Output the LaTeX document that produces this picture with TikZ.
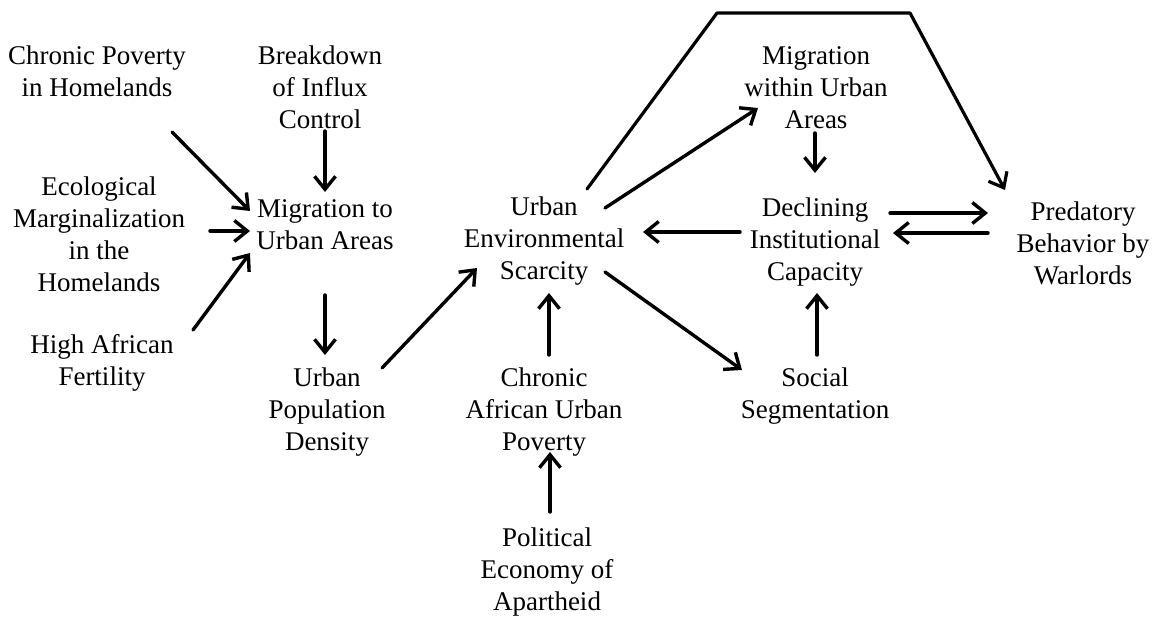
\documentclass[tikz,border=0pt]{standalone}
\usepackage{fontspec}
\setmainfont{Liberation Serif}
\usetikzlibrary{arrows.meta}
\begin{document}
\begin{tikzpicture}[x=1pt,y=-1pt,
  lbl/.style={align=center,inner sep=0pt,font=\fontsize{27}{32}\selectfont},
  arr/.style={line width=3.4pt,line cap=round,-{Straight Barb[length=13pt,width=21pt]}},
  ln/.style={line width=3.2pt,line join=round}]
\useasboundingbox (0,0) rectangle (1155,620);
\fill[white] (0,0) rectangle (1155,620);
\node[lbl] (cp) at (97,71) {Chronic Poverty\\in Homelands};
\node[lbl] (bd) at (320,87) {Breakdown\\of Influx\\Control};
\node[lbl] (em) at (99,234) {Ecological\\Marginalization\\in the\\Homelands};
\node[lbl] (mu) at (325,225) {Migration to\\Urban Areas};
\node[lbl] (ha) at (102,363) {High African\\Fertility};
\node[lbl] (up) at (327,412) {Urban\\Population\\Density};
\node[lbl] (ue) at (544,241) {Urban\\Environmental\\Scarcity};
\node[lbl] (ca) at (544,412) {Chronic\\African Urban\\Poverty};
\node[lbl] (pe) at (547,572) {Political\\Economy of\\Apartheid};
\node[lbl] (mw) at (816,88) {Migration\\within Urban\\Areas};
\node[lbl] (di) at (815,242) {Declining\\Institutional\\Capacity};
\node[lbl] (ss) at (815,396) {Social\\Segmentation};
\node[lbl] (pb) at (1083,243) {Predatory\\Behavior by\\Warlords};
\coordinate (c1) at (717,13);
\coordinate (c2) at (910,13);

\draw[arr] ([shift={(75,61)}]cp.center) -- ([shift={(-75,-14)}]mu.center);
\draw[arr] ([shift={(5,44)}]bd.center) -- ([shift={(0,-33)}]mu.center);
\draw[arr] ([shift={(111,-3)}]em.center) -- ([shift={(-75,6)}]mu.center);
\draw[arr] ([shift={(91,-33)}]ha.center) -- ([shift={(-75,28)}]mu.center);
\draw[arr] ([shift={(0,70)}]mu.center) -- ([shift={(-2,-57)}]up.center);
\draw[arr] ([shift={(55,-44)}]up.center) -- ([shift={(-67,27)}]ue.center);
\draw[arr] ([shift={(5,-57)}]ca.center) -- ([shift={(5,52)}]ue.center);
\draw[arr] ([shift={(3,-60)}]pe.center) -- ([shift={(6,40)}]ca.center);
\draw[arr] ([shift={(61,-33)}]ue.center) -- ([shift={(-58,20)}]mw.center);
\draw[arr] ([shift={(61,31)}]ue.center) -- ([shift={(-73,-26)}]ss.center);
\draw[arr] ([shift={(-1,45)}]mw.center) -- ([shift={(0,-69)}]di.center);
\draw[arr] ([shift={(-75,-10)}]di.center) -- ([shift={(99,-9)}]ue.center);
\draw[arr] ([shift={(2,-41)}]ss.center) -- ([shift={(2,51)}]di.center);
\draw[arr] ([shift={(75,-29)}]di.center) -- ([shift={(-95,-30)}]pb.center);
\draw[arr] ([shift={(-95,-10)}]pb.center) -- ([shift={(78,-9)}]di.center);
\draw[arr,ln] ([shift={(43,-52)}]ue.center) -- (c1) -- (c2) -- ([shift={(-78,-53)}]pb.center);
\end{tikzpicture}
\end{document}
